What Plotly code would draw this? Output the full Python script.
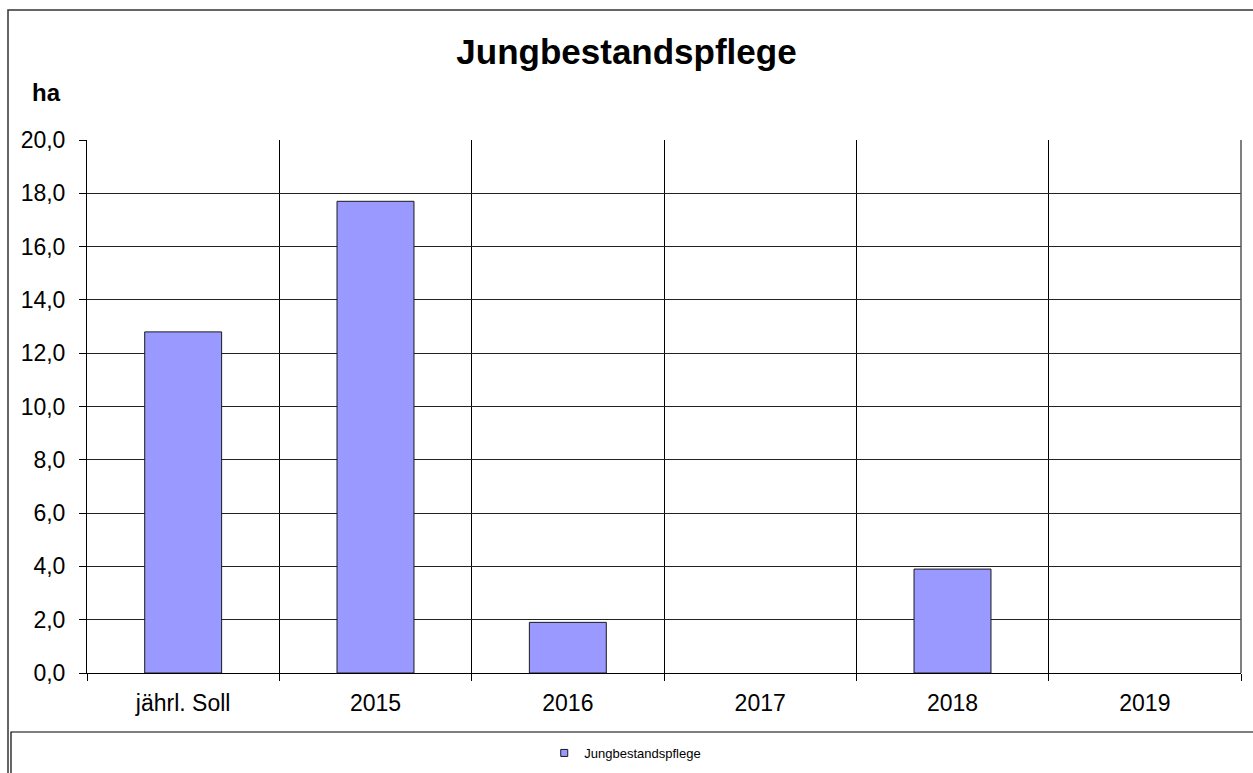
import plotly.graph_objects as go

categories = ["jährl. Soll", "2015", "2016", "2017", "2018", "2019"]
values = [12.8, 17.7, 1.9, 0, 3.9, 0]
series_name = "Jungbestandspflege"

W, H = 1253, 773
L, R, T, B = 87, 12, 140, 100
pw, ph = W - L - R, H - T - B

def px(x):
    return (x - L) / pw

def py(y):
    return (H - B - y) / ph

fig = go.Figure()
fig.add_trace(go.Bar(
    x=categories, y=values, name=series_name,
    marker=dict(color="#9999FF",
                line=dict(color="#1a1a1a", width=[1 if v else 0 for v in values])),
    width=0.4, showlegend=False, hoverinfo="skip",
))
fig.add_trace(go.Scatter(
    x=[None], y=[None], mode="markers", name=series_name,
    marker=dict(symbol="square", size=7, color="#9999FF", line=dict(color="#1a1a1a", width=1)),
    showlegend=True,
))

fig.update_layout(
    width=W, height=H,
    margin=dict(l=L, r=R, t=T, b=B),
    paper_bgcolor="white", plot_bgcolor="white",
    separators=",.",
    font=dict(family="Arial, Liberation Sans, sans-serif", color="black"),
    title=dict(text="<b>Jungbestandspflege</b>", x=0.5, xref="container", xanchor="center",
               y=1 - 52 / H, yanchor="middle", font=dict(size=35)),
    showlegend=True,
    legend=dict(orientation="h", x=0.499, xref="container", xanchor="center",
                y=1 - 753 / H, yref="container", yanchor="middle",
                font=dict(size=13), bgcolor="rgba(0,0,0,0)", itemwidth=30),
    xaxis=dict(type="category", tickson="boundaries", showgrid=True, gridcolor="black", gridwidth=1,
               ticks="outside", ticklen=7, tickcolor="black", showline=True, linecolor="black",
               mirror=False, tickfont=dict(size=23), range=[-0.5, 5.5], ticklabelstandoff=9),
    yaxis=dict(range=[0, 20], dtick=2, tickformat=".1f", showgrid=True, gridcolor="#222222",
               gridwidth=1, ticks="outside", ticklen=7, tickcolor="black", showline=True,
               linecolor="black", tickfont=dict(size=23), zeroline=False, ticklabelstandoff=9),
    shapes=[
        dict(type="rect", xref="paper", yref="paper", x0=px(8), x1=px(1262), y0=py(780), y1=py(10),
             line=dict(color="#333333", width=1.5), fillcolor="rgba(0,0,0,0)", layer="below"),
        dict(type="rect", xref="paper", yref="paper", x0=px(11), x1=px(1262), y0=py(780), y1=py(732),
             line=dict(color="black", width=1.2), fillcolor="rgba(0,0,0,0)", layer="below"),
        dict(type="line", xref="paper", yref="paper", x0=1, x1=1, y0=0, y1=1,
             line=dict(color="#555555", width=1.5)),
    ],
    annotations=[
        dict(text="<b>ha</b>", xref="paper", yref="paper", x=px(46), y=py(93),
             xanchor="center", yanchor="middle", showarrow=False, font=dict(size=24)),
    ],
)

fig.write_html("out.html", config={"displayModeBar": False},
               post_script="document.body.style.margin='0';")
